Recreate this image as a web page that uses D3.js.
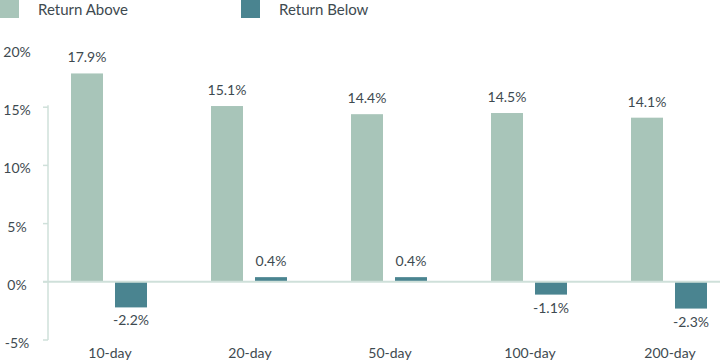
<!DOCTYPE html>
<html>
<head>
<meta charset="utf-8">
<script src="https://cdn.jsdelivr.net/npm/d3@7"></script>
<style>
  body { margin: 0; background: #fff; }
  text { font-family: Lato, "Open Sans", sans-serif; fill: #3e4a50; }
</style>
</head>
<body>
<div id="chart"></div>
<script>
const categories = ["10-day", "20-day", "50-day", "100-day", "200-day"];
const returnAbove = [17.9, 15.1, 14.4, 14.5, 14.1];
const returnBelow = [-2.2, 0.4, 0.4, -1.1, -2.3];
const seriesNames = ["Return Above", "Return Below"];
const yTicks = [-5, 0, 5, 10, 15, 20];

const width = 720;
const height = 362;
const colors = ["#a8c5b9", "#4a8490"];

const svg = d3.select("#chart")
  .append("svg")
  .attr("width", width)
  .attr("height", height);

const y = d3.scaleLinear().domain([-5, 20]).range([340, 49]);

const x0 = d3.scaleBand().domain(categories).range([41, 741]);
const x1 = d3.scaleBand().domain(seriesNames).range([30, 106]).paddingInner(0.273);

const rows = categories.map((c, i) => ({
  cat: c,
  values: [
    { key: seriesNames[0], v: returnAbove[i] },
    { key: seriesNames[1], v: returnBelow[i] }
  ]
}));

// axis line + ticks
svg.append("line")
  .attr("x1", 48).attr("x2", 48)
  .attr("y1", y(15) - 2).attr("y2", y(-5))
  .attr("stroke", "#cfe0da").attr("stroke-width", 1.5);

svg.selectAll(".tick")
  .data(yTicks.filter(t => t <= 15))
  .enter().append("line")
  .attr("x1", 43).attr("x2", 48)
  .attr("y1", d => y(d)).attr("y2", d => y(d))
  .attr("stroke", "#cfe0da").attr("stroke-width", 1.5);

svg.selectAll(".ylab")
  .data(yTicks)
  .enter().append("text")
  .attr("x", 17)
  .attr("y", d => y(d) + 8)
  .attr("text-anchor", "middle")
  .style("font-size", "14px")
  .text(d => d + "%");

// bars
const g = svg.selectAll(".grp")
  .data(rows)
  .enter().append("g")
  .attr("transform", d => `translate(${x0(d.cat)},0)`);

g.selectAll("rect")
  .data(d => d.values)
  .enter().append("rect")
  .attr("x", d => x1(d.key))
  .attr("width", x1.bandwidth())
  .attr("y", d => y(Math.max(0, d.v)))
  .attr("height", d => Math.abs(y(d.v) - y(0)))
  .attr("fill", (d, i) => colors[i]);

g.selectAll(".val")
  .data(d => d.values)
  .enter().append("text")
  .attr("x", d => x1(d.key) + x1.bandwidth() / 2)
  .attr("y", d => d.v >= 0 ? y(d.v) - 11 : y(d.v) + 18)
  .attr("text-anchor", "middle")
  .style("font-size", "14px")
  .text(d => d.v.toFixed(1) + "%");

// zero line
svg.append("line")
  .attr("x1", 43).attr("x2", width)
  .attr("y1", y(0)).attr("y2", y(0))
  .attr("stroke", "#cfe0da").attr("stroke-width", 2);

// category labels
svg.selectAll(".xlab")
  .data(categories)
  .enter().append("text")
  .attr("x", d => x0(d) + 69)
  .attr("y", 358)
  .attr("text-anchor", "middle")
  .style("font-size", "14px")
  .text(d => d);

// legend
const legendX = [0, 241];
seriesNames.forEach((s, i) => {
  svg.append("rect")
    .attr("x", legendX[i]).attr("y", 0)
    .attr("width", 19).attr("height", 18)
    .attr("fill", colors[i]);
  svg.append("text")
    .attr("x", legendX[i] + 38).attr("y", 15)
    .style("font-size", "15px")
    .text(s);
});
</script>
</body>
</html>
